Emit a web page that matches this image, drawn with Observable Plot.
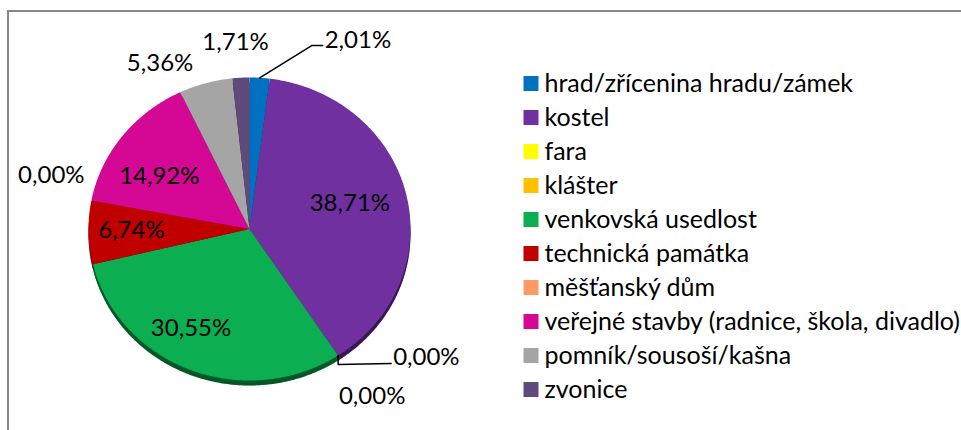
<!DOCTYPE html>
<html><head><meta charset="utf-8">
<script src="https://cdn.jsdelivr.net/npm/d3@7"></script>
<script src="https://cdn.jsdelivr.net/npm/@observablehq/plot@0.6"></script>
<style>
html,body{margin:0;padding:0;background:#fff;}
#wrap{position:relative;width:961px;height:430px;overflow:hidden;}
#frame{position:absolute;left:7px;top:10px;width:1100px;height:600px;border:2px solid #878787;box-sizing:border-box;}
#pie,#legend{position:absolute;left:0;top:0;}
#legend{pointer-events:none;}
</style></head><body>
<div id="wrap"><div id="frame"></div><div id="pie"></div><div id="legend"></div></div>
<script>
// ---- data ----
const categories = [
  "hrad/zřícenina hradu/zámek",
  "kostel",
  "fara",
  "klášter",
  "venkovská usedlost",
  "technická památka",
  "měšťanský dům",
  "veřejné stavby (radnice, škola, divadlo)",
  "pomník/sousoší/kašna",
  "zvonice"
];
const shares = [2.01, 38.71, 0.00, 0.00, 30.55, 6.74, 0.00, 14.92, 5.36, 1.71];
const colors = ["#0070C0", "#7030A0", "#FFFF00", "#FFC000", "#0BAE50", "#C00000", "#FF9966", "#D40894", "#A5A5A5", "#604A7B"];

// ---- layout (label placement, not data) ----
const cx = 249, cy = 228.5, rx = 161, ry = 151.5;
const labelLayout = [
  {r: 1.2,  dx: 63,  dy: -7,  anchor: "start",  leader: "elbow"},
  {r: 0.64, dx: 0,   dy: -4,  anchor: "middle"},
  {r: 1.0,  dx: 55,  dy: 2,   anchor: "start",  leader: "straight"},
  {r: 1.0,  dx: 34,  dy: 41,  anchor: "middle"},
  {r: 0.7,  dx: -17, dy: 1,   anchor: "middle"},
  {r: 0.74, dx: 1,   dy: -1,  anchor: "middle"},
  {r: 1.1,  dx: 9,   dy: -22, anchor: "end"},
  {r: 0.7,  dx: -1,  dy: 12,  anchor: "middle"},
  {r: 1.15, dx: -39, dy: 2,   anchor: "middle"},
  {r: 1.15, dx: -4,  dy: -13, anchor: "middle"}
];
const fontFamily = "Lato, 'Open Sans', sans-serif";
const labelSize = 24;
const legendSize = 25;

// ---- geometry from data ----
const arcs = d3.pie().sort(null).value(d => d)(shares);
const slicePts = [];
arcs.forEach((a, i) => {
  if (a.endAngle - a.startAngle <= 0) return;
  const cat = categories[i];
  slicePts.push({cat, x: 0, y: 0});
  const n = Math.max(2, Math.ceil((a.endAngle - a.startAngle) / 0.01));
  for (let k = 0; k <= n; k++) {
    const t = a.startAngle + (a.endAngle - a.startAngle) * k / n;
    slicePts.push({cat, x: Math.sin(t), y: Math.cos(t)});
  }
});

const fmt = v => v.toFixed(2).replace(".", ",") + "%";
const labels = arcs.map((a, i) => {
  const m = (a.startAngle + a.endAngle) / 2;
  const L = labelLayout[i];
  return {
    cat: categories[i],
    text: fmt(shares[i]),
    mid: m,
    x: L.r * Math.sin(m) + L.dx / rx,
    y: L.r * Math.cos(m) - L.dy / ry,
    anchor: L.anchor,
    leader: L.leader
  };
});
const leaderPts = [];
labels.forEach(l => {
  if (!l.leader) return;
  const ex = Math.sin(l.mid), ey = Math.cos(l.mid);
  leaderPts.push({cat: l.cat, x: ex, y: ey});
  if (l.leader === "elbow") {
    leaderPts.push({cat: l.cat, x: l.x - 13 / rx, y: l.y - 5 / ry});
    leaderPts.push({cat: l.cat, x: l.x - 2 / rx, y: l.y - 5 / ry});
  } else {
    leaderPts.push({cat: l.cat, x: ex, y: ey - 9 / ry});
    leaderPts.push({cat: l.cat, x: l.x - 2 / rx, y: l.y - 6 / ry});
  }
});

const pie = Plot.plot({
  width: 961, height: 430, margin: 0,
  style: {fontFamily, background: "transparent"},
  x: {domain: [-1, 1], range: [cx - rx, cx + rx], axis: null},
  y: {domain: [-1, 1], range: [cy + ry, cy - ry], axis: null},
  color: {domain: categories, range: colors},
  marks: [
    Plot.line(slicePts, {x: "x", y: "y", z: "cat", fill: "cat", stroke: "none", dy: 5}),
    Plot.line(slicePts, {x: "x", y: "y", z: "cat", fill: "black", fillOpacity: 0.5, stroke: "none", dy: 5}),
    Plot.line(slicePts, {x: "x", y: "y", z: "cat", fill: "cat", stroke: "none"}),
    Plot.line(leaderPts, {x: "x", y: "y", z: "cat", stroke: "black", strokeWidth: 1.5}),
    ...["start", "middle", "end"].map(anc =>
      Plot.text(labels.filter(l => l.anchor === anc), {
        x: "x", y: "y", text: "text", textAnchor: anc,
        fontSize: labelSize, fill: "black"
      }))
  ]
});
document.getElementById("pie").appendChild(pie);

const legend = Plot.plot({
  width: 961, height: 430, margin: 0,
  style: {fontFamily, background: "transparent"},
  x: {domain: [0, 1], range: [530.5, 900], axis: null},
  y: {type: "point", domain: categories, range: [81, 390], padding: 0, axis: null},
  color: {domain: categories, range: colors},
  marks: [
    Plot.dot(categories, {x: () => 0, y: d => d, fill: d => d, symbol: "square", r: 8.46}),
    Plot.text(categories, {x: () => 0, y: d => d, text: d => d, dx: 13.5, textAnchor: "start", fontSize: legendSize, fill: "black"})
  ]
});
document.getElementById("legend").appendChild(legend);
</script>
</body></html>
